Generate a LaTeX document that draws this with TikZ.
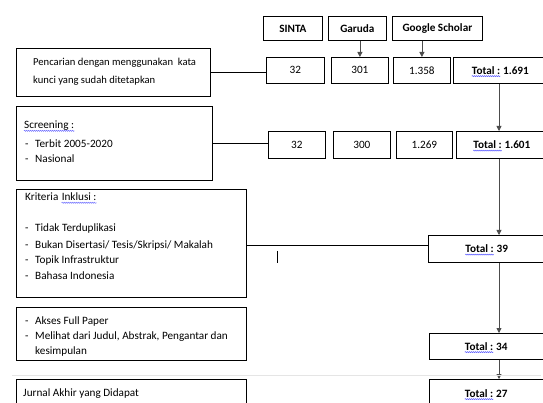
\documentclass[tikz,border=0pt]{standalone}
\usepackage{fontspec}
\setmainfont{Carlito}
\usetikzlibrary{arrows.meta,decorations.pathmorphing}
\newcommand\bul{\makebox[10pt][l]{-}}
\begin{document}
\begin{tikzpicture}[x=1pt,y=-1pt,
  box/.style={draw=black,line width=0.8pt,inner sep=0pt,anchor=north west,font=\fontsize{11.2}{13.5}\selectfont},
  txt/.style={anchor=base west,inner sep=0pt,font=\fontsize{11.2}{13.5}\selectfont},
  tlab/.style={anchor=east,inner sep=0pt,font=\fontsize{11.2}{13.5}\selectfont\bfseries},
  tnum/.style={anchor=base west,inner sep=0pt,font=\fontsize{11.2}{13.5}\selectfont\bfseries},
  wavy/.style={draw=blue!65,line width=0.45pt,decorate,decoration={snake,amplitude=0.55pt,segment length=2pt}},
  link/.style={draw=black,line width=0.8pt},
  arr/.style={draw=black!70,line width=0.8pt,-{Triangle[length=5pt,width=5pt]}}]
\useasboundingbox (0,0) rectangle (543,403);
\clip (0,0) rectangle (543,403);
% sources
\node[box,minimum width=59,minimum height=24] (sinta) at (263,16) {\textbf{SINTA}};
\node[box,minimum width=58,minimum height=24] (garuda) at (328,16) {\textbf{Garuda}};
\node[box,minimum width=90,minimum height=24] (gs) at (392,16) {\textbf{Google Scholar}};
% row 1
\node[box,minimum width=58,minimum height=26] (a1) at (266,57) {32};
\node[box,minimum width=57,minimum height=26] (a2) at (331,57) {301};
\node[box,minimum width=57,minimum height=26] (a3) at (393,57) {1.358};
\node[box,minimum width=92,minimum height=26] (t1) at (453,57) {};
% row 2
\node[box,minimum width=57,minimum height=27] (b1) at (268,131) {32};
\node[box,minimum width=57,minimum height=27] (b2) at (333,131) {300};
\node[box,minimum width=56,minimum height=27] (b3) at (396,131) {1.269};
\node[box,minimum width=89,minimum height=27] (t2) at (456,131) {};
% totals
\node[box,minimum width=117,minimum height=27] (t3) at (428,235) {};
\node[box,minimum width=116,minimum height=26] (t4) at (429,333) {};
\node[box,minimum width=116,minimum height=30] (t5) at (429,379) {};
% total texts
\node[tlab] (tl1) at ([xshift=1pt]t1.center) {Total :};
\node[tnum] (tn1) at (tl1.base east) {\ 1.691};
\node[tlab] (tl2) at ([xshift=1pt]t2.center) {Total :};
\node[tnum] (tn2) at (tl2.base east) {\ 1.601};
\node[tlab] (tl3) at ([xshift=7pt]t3.center) {Total :};
\node[tnum] (tn3) at (tl3.base east) {\ 39};
\node[tlab] (tl4) at ([xshift=6pt]t4.center) {Total :};
\node[tnum] (tn4) at (tl4.base east) {\ 34};
\node[tlab] (tl5) at ([xshift=6pt,yshift=1pt]t5.center) {Total :};
\node[tnum] (tn5) at (tl5.base east) {\ 27};
% left boxes
\node[box,minimum width=194,minimum height=48] (L1) at (16,48) {};
\node[box,minimum width=196,minimum height=74] (L2) at (16,106) {};
\node[box,minimum width=230,minimum height=108] (L3) at (16,189) {};
\node[box,minimum width=230,minimum height=53] (L4) at (16,307) {};
\node[box,minimum width=230,minimum height=30] (L5) at (16,379) {};
% left texts
\node[txt,font=\fontsize{10.6}{12.5}\selectfont] (l1a) at (33,66) {Pencarian dengan menggunakan\ \ kata};
\node[txt,font=\fontsize{10.6}{12.5}\selectfont] (l1b) at (33,84) {kunci yang sudah ditetapkan};
\node[txt] (l2a) at (24,129) {Screening :};
\node[txt] (l2b) at (25,148) {\bul Terbit 2005-2020};
\node[txt] (l2c) at (25,163) {\bul Nasional};
\node[txt] (l3a) at (25,201) {Kriteria};
\node[txt] (l3a2) at ([xshift=3pt]l3a.base east) {Inklusi :};
\node[txt] (l3b) at (25,232) {\bul Tidak Terduplikasi};
\node[txt] (l3c) at (25,249) {\bul Bukan Disertasi/ Tesis/Skripsi/ Makalah};
\node[txt] (l3d) at (25,264) {\bul Topik Infrastruktur};
\node[txt] (l3e) at (25,279) {\bul Bahasa\ Indonesia};
\node[txt] (l4a) at (25,324) {\bul Akses Full Paper};
\node[txt] (l4b) at (25,339) {\bul Melihat dari Judul, Abstrak, Pengantar dan};
\node[txt] (l4c) at (35,354) {kesimpulan};
\node[txt] (l5a) at (23,396) {Jurnal Akhir yang Didapat};
% spell-check squiggles
\foreach \n in {tl1,tl2,tl3,tl4,tl5,l2a,l3a2}
  \draw[wavy] ([yshift=-1.8pt]\n.base west) -- ([yshift=-1.8pt]\n.base east);
% connectors
\draw[link] (L1.east) -- (L1.east -| a1.west);
\draw[link] (L2.east) -- (L2.east -| b1.west);
\draw[link] ([yshift=-2pt]L3.east) -- ([yshift=-2pt]L3.east -| t3.west);
\draw[arr] (garuda.south -| a2.north) -- (a2.north);
\draw[arr] (gs.south -| a3.north) -- (a3.north);
\coordinate (vx) at (499,0);
\draw[arr] (vx |- t1.south) -- (vx |- t2.north);
\draw[arr] (vx |- t2.south) -- (vx |- t3.north);
\draw[arr] (vx |- t3.south) -- (vx |- t4.north);
\draw[arr] (vx |- t4.south) -- (vx |- t5.north);
% stray cursor mark and faint rule
\draw[line width=0.7pt] (277,251) -- (277,263);
\draw[black!10,line width=0.8pt] (12,375) -- (541,375);
\end{tikzpicture}
\end{document}
